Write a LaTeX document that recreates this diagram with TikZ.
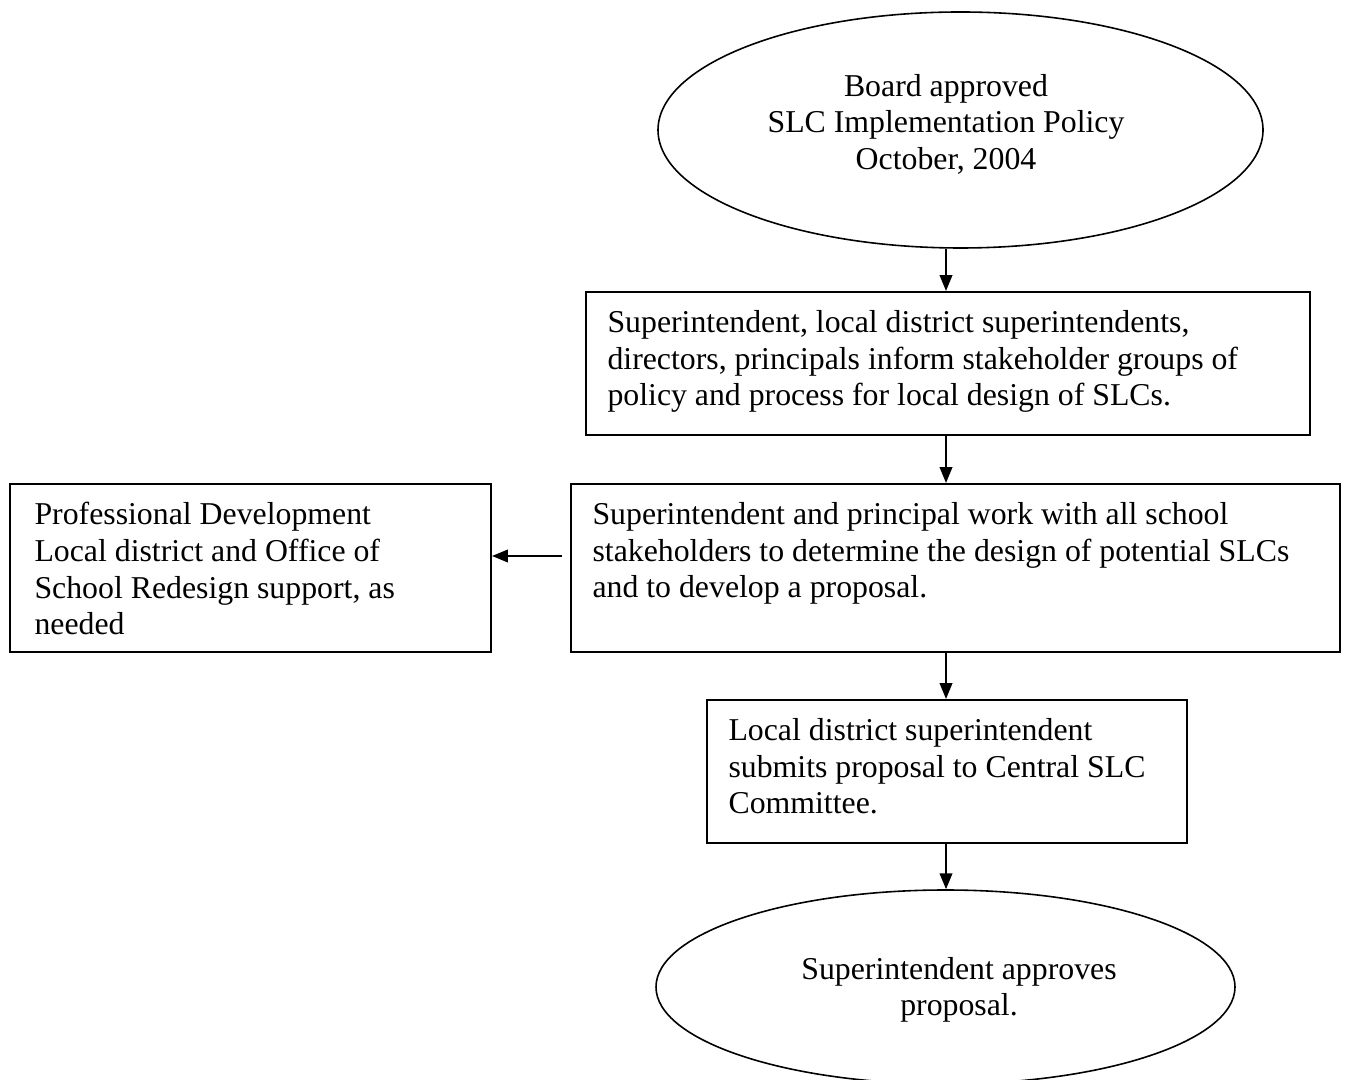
\documentclass[tikz,border=0pt]{standalone}
\usepackage{fontspec}
\setmainfont{Liberation Serif}
\usetikzlibrary{shapes.geometric,arrows.meta}
\def\U{0.3774pt}
\begin{document}
\begin{tikzpicture}[x=0.3774pt,y=-0.3774pt,
  every node/.style={font=\fontsize{12pt}{13.8pt}\selectfont},
  box/.style={draw,line width=0.8pt,inner sep=0pt,rectangle},
  oval/.style={draw,line width=0.6pt,inner sep=0pt,ellipse},
  txt/.style={inner sep=0pt,align=left,anchor=north west},
  ctxt/.style={inner sep=0pt,align=center},
  arr/.style={line width=0.6pt,-{Triangle[length=6pt,width=4.8pt]}}]
\useasboundingbox (0,0) rectangle (1347,1080);
\clip (0,0) rectangle (1347,1080);
\coordinate (ax) at (946,0);
% top ellipse
\node[oval,minimum width=605*\U,minimum height=236*\U] (e1) at (960.5,130) {};
\node[ctxt] (t1) at (946,124) {Board approved\\SLC Implementation Policy\\October, 2004};
% box 2
\node[box,minimum width=724*\U,minimum height=143*\U] (b2) at (948,363.5) {};
\node[txt] (t2) at (607,310) {Superintendent, local district superintendents,\\directors, principals inform stakeholder groups of\\policy and process for local design of SLCs.};
% box 3
\node[box,minimum width=769*\U,minimum height=168*\U] (b3) at (955.5,568) {};
\node[txt] (t3) at (592,502) {Superintendent and principal work with all school\\stakeholders to determine the design of potential SLCs\\and to develop a proposal.};
% box 4
\node[box,minimum width=481*\U,minimum height=168*\U] (b4) at (250.5,568) {};
\node[txt] (t4) at (34,502) {Professional Development\\Local district and Office of\\School Redesign support, as\\needed};
% box 5
\node[box,minimum width=480*\U,minimum height=143*\U] (b5) at (947,771.5) {};
\node[txt] (t5) at (728,718) {Local district superintendent\\submits proposal to Central SLC\\Committee.};
% bottom ellipse
\node[oval,minimum width=579*\U,minimum height=194*\U] (e2) at (945.5,987) {};
\node[ctxt] (t6) at (959,990) {Superintendent approves\\proposal.};
% connectors
\draw[arr] (ax |- e1.south) -- (ax |- b2.north);
\draw[arr] (ax |- b2.south) -- (ax |- b3.north);
\draw[arr,shorten <=8*\U] ([yshift=12*\U]b3.west) -- ([yshift=12*\U]b4.east);
\draw[arr] (ax |- b3.south) -- (ax |- b5.north);
\draw[arr] (ax |- b5.south) -- (ax |- e2.north);
\end{tikzpicture}
\end{document}
